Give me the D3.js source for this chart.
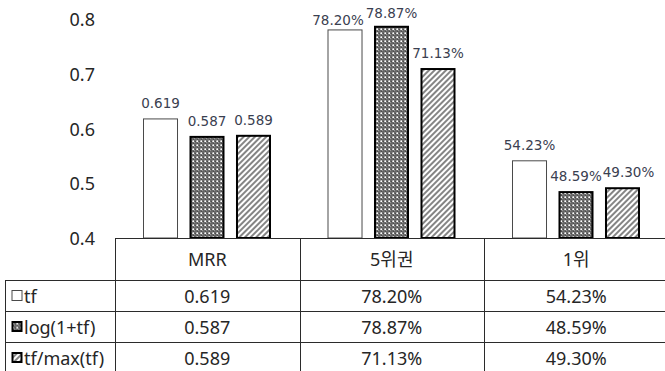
<!DOCTYPE html>
<html>
<head>
<meta charset="utf-8">
<script src="https://cdn.jsdelivr.net/npm/d3@7"></script>
<style>
  html, body { margin: 0; padding: 0; background: #fff; }
  svg { display: block; }
</style>
</head>
<body>
<svg id="chart" width="665" height="371"></svg>
<script>
// ---------------- data ----------------
const categories = ["MRR", "5위권", "1위"];
const seriesNames = ["tf", "log(1+tf)", "tf/max(tf)"];
const tfValues = [0.619, 0.7820, 0.5423];
const logValues = [0.587, 0.7887, 0.4859];
const maxValues = [0.589, 0.7113, 0.4930];
const yTicks = [0.4, 0.5, 0.6, 0.7, 0.8];
const valueFormats = [".3f", ".2%", ".2%"];   // per category

const seriesValues = [tfValues, logValues, maxValues];

// ---------------- layout / style ----------------
const W = 665, H = 371;
const plotTop = 19.6, plotBottom = 238;
const tableLeft = 5, tableX0 = 115, tableX1 = 668.5;
const headerBottom = 280, rowH = 31;
const labelFont = "'DejaVu Sans', Verdana, sans-serif";
const tableFont = "'Noto Sans', 'Noto Sans CJK KR', sans-serif";
const labelColor = "#3a4050";
const textColor = "#262626";
const lineColor = "#2b2b2b";
// small nudges for data labels that Excel moved to avoid overlaps
const labelNudge = { "0|1": [-7, 6], "1|1": [0, 2], "2|2": [6, 0] };

const svg = d3.select("#chart");

// patterns
const defs = svg.append("defs");
const dots = defs.append("pattern").attr("id", "dots")
  .attr("patternUnits", "userSpaceOnUse").attr("width", 4).attr("height", 4);
dots.append("rect").attr("width", 4).attr("height", 4).attr("fill", "#6a6a6a");
dots.append("rect").attr("x", 0).attr("y", 0).attr("width", 1).attr("height", 1).attr("fill", "#9a9a9a");
dots.append("rect").attr("x", 2).attr("y", 2).attr("width", 1).attr("height", 1).attr("fill", "#9a9a9a");
dots.append("rect").attr("x", 3).attr("y", 1).attr("width", 1).attr("height", 1).attr("fill", "#4a4a4a");
dots.append("rect").attr("x", 1).attr("y", 3).attr("width", 1).attr("height", 1).attr("fill", "#4a4a4a");
dots.append("rect").attr("x", 1).attr("y", 1).attr("width", 1).attr("height", 1).attr("fill", "#fff");
dots.append("rect").attr("x", 0).attr("y", 1).attr("width", 1).attr("height", 1).attr("fill", "#c8c8c8");
dots.append("rect").attr("x", 1).attr("y", 0).attr("width", 1).attr("height", 1).attr("fill", "#c8c8c8");

const hatch = defs.append("pattern").attr("id", "hatch")
  .attr("patternUnits", "userSpaceOnUse").attr("width", 4).attr("height", 4)
  .attr("patternTransform", "rotate(45)");
hatch.append("rect").attr("width", 4).attr("height", 4).attr("fill", "#fff");
hatch.append("line").attr("x1", 1).attr("y1", 0).attr("x2", 1).attr("y2", 4)
  .attr("stroke", "#333").attr("stroke-width", 1.2);

const seriesStyle = [
  { fill: "#fff", stroke: "#4a4a4a", sw: 1 },
  { fill: "url(#dots)", stroke: "#000", sw: 2 },
  { fill: "url(#hatch)", stroke: "#000", sw: 2 }
];

// scales
const y = d3.scaleLinear().domain([0.4, 0.8]).range([plotBottom, plotTop]);
const x = d3.scaleBand().domain(categories).range([tableX0, tableX1]).padding(0);
const xs = d3.scaleBand().domain(seriesNames).range([28, 156]).paddingInner(0.247).paddingOuter(0);

// y axis (labels only)
const yAxis = d3.axisLeft(y).tickValues(yTicks).tickFormat(d3.format(".1f")).tickSize(0).tickPadding(0);
const yg = svg.append("g").attr("transform", "translate(95,0)").call(yAxis);
yg.select(".domain").remove();
yg.selectAll("text").attr("font-family", tableFont).attr("font-size", 18)
  .attr("fill", textColor).attr("dy", "0.35em");

// bars
const barData = [];
seriesNames.forEach((s, si) => categories.forEach((c, ci) => {
  barData.push({ s, si, c, ci, v: seriesValues[si][ci] });
}));

svg.append("g").selectAll("rect").data(barData).join("rect")
  .attr("x", d => x(d.c) + xs(d.s) + seriesStyle[d.si].sw / 2)
  .attr("y", d => y(d.v) + seriesStyle[d.si].sw / 2)
  .attr("width", d => xs.bandwidth() - seriesStyle[d.si].sw)
  .attr("height", d => y(0.4) - y(d.v) - seriesStyle[d.si].sw / 2)
  .attr("fill", d => seriesStyle[d.si].fill)
  .attr("stroke", d => seriesStyle[d.si].stroke)
  .attr("stroke-width", d => seriesStyle[d.si].sw);

// data labels
svg.append("g").selectAll("text").data(barData).join("text")
  .attr("x", d => x(d.c) + xs(d.s) + xs.bandwidth() / 2 + ((labelNudge[d.si + "|" + d.ci] || [0, 0])[0]))
  .attr("y", d => y(d.v) - 10 + ((labelNudge[d.si + "|" + d.ci] || [0, 0])[1]))
  .attr("text-anchor", "middle")
  .attr("font-family", labelFont).attr("font-size", 13.5)
  .attr("fill", labelColor)
  .text(d => d3.format(valueFormats[d.ci])(d.v));

// ---------------- table ----------------
const tg = svg.append("g");
const px = v => Math.round(v) + 0.5;
const rowTops = seriesNames.map((s, i) => headerBottom + i * rowH);
const tableBottom = headerBottom + seriesNames.length * rowH;

// horizontal lines
tg.append("line").attr("x1", tableX0).attr("x2", W).attr("y1", px(plotBottom)).attr("y2", px(plotBottom));
rowTops.forEach(t => {
  tg.append("line").attr("x1", tableLeft).attr("x2", W).attr("y1", px(t)).attr("y2", px(t));
});
// vertical lines
tg.append("line").attr("x1", px(tableLeft)).attr("x2", px(tableLeft)).attr("y1", headerBottom).attr("y2", tableBottom);
categories.forEach(c => {
  tg.append("line").attr("x1", px(x(c))).attr("x2", px(x(c))).attr("y1", plotBottom).attr("y2", tableBottom);
});
tg.selectAll("line").attr("stroke", lineColor).attr("stroke-width", 1);

// header texts
tg.selectAll("text.hdr").data(categories).join("text").attr("class", "hdr")
  .attr("x", c => x(c) + x.bandwidth() / 2)
  .attr("y", (plotBottom + headerBottom) / 2 + 1)
  .attr("dy", "0.35em").attr("text-anchor", "middle")
  .attr("font-family", tableFont).attr("font-size", 18).attr("fill", textColor)
  .text(c => c);

// cells
tg.selectAll("text.cell").data(barData).join("text").attr("class", "cell")
  .attr("x", d => x(d.c) + x.bandwidth() / 2)
  .attr("y", d => rowTops[d.si] + rowH / 2 + 1)
  .attr("dy", "0.35em").attr("text-anchor", "middle")
  .attr("font-family", tableFont).attr("font-size", 18).attr("fill", textColor)
  .text(d => d3.format(valueFormats[d.ci])(d.v));

// row legend
const leg = tg.selectAll("g.leg").data(seriesNames).join("g").attr("class", "leg")
  .attr("transform", (s, i) => `translate(0,${rowTops[i] + rowH / 2})`);
leg.append("rect")
  .attr("x", (s, i) => 12 + seriesStyle[i].sw / 2 - 0.5)
  .attr("y", (s, i) => -5 + seriesStyle[i].sw / 2 - 0.5)
  .attr("width", (s, i) => 10 - seriesStyle[i].sw + 1)
  .attr("height", (s, i) => 10 - seriesStyle[i].sw + 1)
  .attr("fill", (s, i) => seriesStyle[i].fill)
  .attr("stroke", (s, i) => seriesStyle[i].stroke)
  .attr("stroke-width", (s, i) => seriesStyle[i].sw);
leg.append("text").attr("x", 24).attr("y", 1).attr("dy", "0.35em")
  .attr("font-family", tableFont).attr("font-size", 18).attr("fill", textColor)
  .text(s => s);
</script>
</body>
</html>
